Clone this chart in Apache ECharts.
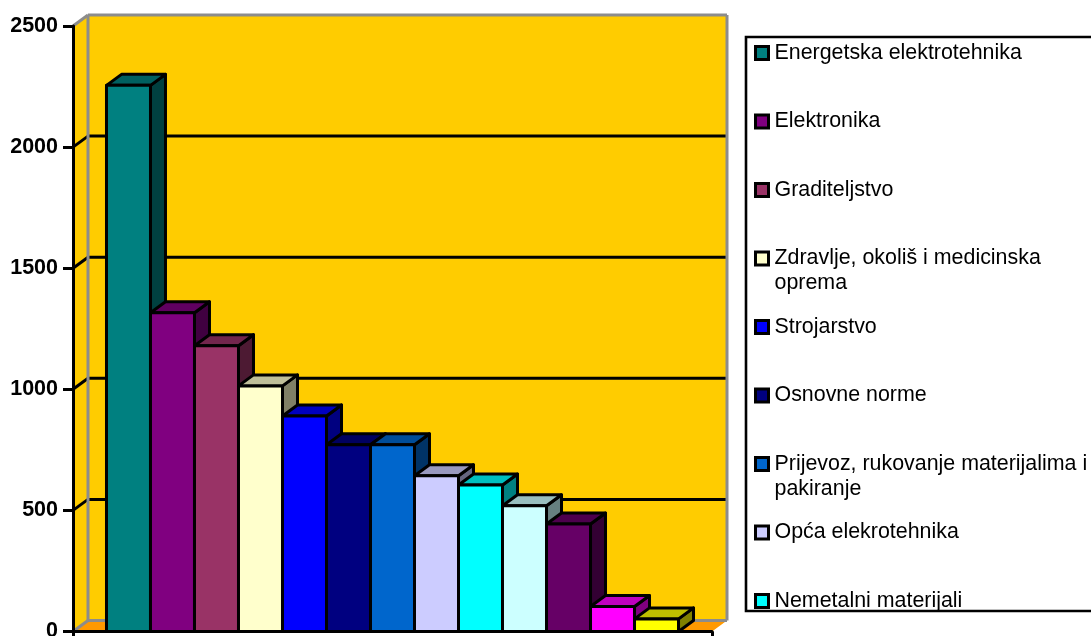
<!DOCTYPE html>
<html><head><meta charset="utf-8">
<style>html,body{margin:0;padding:0;background:#fff;overflow:hidden}#c{width:1091px;height:636px}</style>
<script src="https://cdn.jsdelivr.net/npm/echarts@6/dist/echarts.min.js"></script>
</head><body><div id="c"></div>
<script>
var categories = ["Energetska elektrotehnika","Elektronika","Graditeljstvo","Zdravlje, okoliš i medicinska oprema","Strojarstvo","Osnovne norme","Prijevoz, rukovanje materijalima i pakiranje","Opća elekrotehnika","Nemetalni materijali","Kategorija 10","Kategorija 11","Kategorija 12","Kategorija 13"];
var values = [2255,1316,1180,1014,890,771,771,643,605,519,444,103,52];
var colors = ["#008080","#800080","#993366","#FFFFCC","#0000FF","#000080","#0066CC","#CCCCFF","#00FFFF","#CCFFFF","#660066","#FF00FF","#FFFF00"];
var topColors = ["#006060","#600060","#73264D","#BFBF99","#0000BF","#000060","#004D99","#9999BF","#00BFBF","#99BFBF","#4D004D","#BF00BF","#BFBF00"];
var sideColors = ["#004040","#400040","#4D1A33","#808066","#000080","#000040","#003366","#666680","#008080","#668080","#330033","#800080","#808000"];
var legendNames = categories.slice(0,9);
var wrapped = {"Zdravlje, okoliš i medicinska oprema":"Zdravlje, okoliš i medicinska\noprema","Prijevoz, rukovanje materijalima i pakiranje":"Prijevoz, rukovanje materijalima i\npakiranje"};
var yTicks = [0,500,1000,1500,2000,2500];
var DX = 15, DY = -11;
var SLOT_PAD = 0.761;
var LW = 3;

function poly(points, fill, stroke, w){
  return {type:'polygon', shape:{points:points}, style:{fill:fill, stroke:stroke||'#000', lineWidth:w===undefined?LW:w, lineJoin:'round'}};
}
function line(a,b,stroke,w){
  return {type:'line', shape:{x1:a[0],y1:a[1],x2:b[0],y2:b[1]}, style:{stroke:stroke,lineWidth:w,fill:null}};
}
function renderWall(params, api){
  var l = api.coord([-SLOT_PAD,0]), r = api.coord([13+SLOT_PAD,0]), t = api.coord([-SLOT_PAD,2500]);
  var x0=l[0], x1=r[0], y0=l[1], y1=t[1];
  var wall='#FFCC00', floor='#FF9900', grey='#8C8C8C';
  var ch=[];
  ch.push(poly([[x0,y1],[x0+DX,y1+DY],[x0+DX,y0+DY],[x0,y0]],wall,'none',0));
  ch.push(poly([[x0+DX,y1+DY],[x1+DX,y1+DY],[x1+DX,y0+DY],[x0+DX,y0+DY]],wall,'none',0));
  ch.push(poly([[x0,y0],[x0+DX,y0+DY],[x1+DX,y0+DY],[x1,y0]],floor,'none',0));
  yTicks.slice(1,-1).forEach(function(v){
    var y=api.coord([0,v])[1];
    ch.push(line([x0,y],[x0+DX,y+DY],'#000',LW));
    ch.push(line([x0+DX,y+DY],[x1+DX,y+DY],'#000',LW));
  });
  ch.push(line([x0,y1],[x0+DX,y1+DY],grey,3));
  ch.push(line([x0+DX,y1+DY],[x1+DX,y1+DY],grey,3));
  ch.push(line([x0+DX,y1+DY],[x0+DX,y0+DY],grey,3));
  ch.push(line([x1+DX,y1+DY],[x1+DX,y0+DY],grey,3));
  ch.push(line([x0+DX,y0+DY],[x1+DX,y0+DY],grey,3));
  ch.push(line([x0,y0],[x0+DX,y0+DY],grey,3));
  return {type:'group',children:ch};
}
function renderBar(i){
  return function(params, api){
    var a=api.coord([api.value(0),api.value(1)]), b=api.coord([api.value(0)+1,0]);
    var xl=a[0],xr=b[0],yt=a[1],yb=b[1];
    return {type:'group',children:[
      poly([[xr,yt],[xr+DX,yt+DY],[xr+DX,yb+DY],[xr,yb]],sideColors[i]),
      poly([[xl,yt],[xl+DX,yt+DY],[xr+DX,yt+DY],[xr,yt]],topColors[i]),
      poly([[xl,yt],[xr,yt],[xr,yb],[xl,yb]],colors[i])
    ]};
  };
}
var series=[{type:'custom',name:'__wall',silent:true,data:[[0,0]],renderItem:renderWall,z:1,clip:false}];
categories.forEach(function(name,i){
  series.push({type:'custom',name:name,data:[[i,values[i]]],renderItem:renderBar(i),clip:false,z:2,
    itemStyle:{color:colors[i]},encode:{x:0,y:1}});
});
var chart=echarts.init(document.getElementById('c'),null,{renderer:'canvas'});
chart.setOption({
  animation:false,
  backgroundColor:'#fff',
  textStyle:{fontFamily:'"Liberation Sans",Arial,sans-serif'},
  grid:{left:73,top:26,width:639,height:605.5,containLabel:false,outerBoundsMode:'none'},
  xAxis:{type:'value',min:-SLOT_PAD,max:13+SLOT_PAD,z:5,
    axisLine:{show:true,onZero:false,lineStyle:{color:'#000',width:LW}},
    axisTick:{show:true,length:6,lineStyle:{color:'#000',width:LW},customValues:[-SLOT_PAD,13+SLOT_PAD]},
    axisLabel:{show:false},splitLine:{show:false}},
  yAxis:{type:'value',min:0,max:2500,interval:500,z:5,
    axisLine:{show:true,onZero:false,lineStyle:{color:'#000',width:LW}},
    axisTick:{show:true,length:10,lineStyle:{color:'#000',width:LW}},
    axisLabel:{show:true,color:'#000',fontWeight:'bold',fontSize:21.5,margin:15,padding:[4,0,0,0],fontFamily:'"Liberation Sans",Arial,sans-serif',formatter:function(v){return String(v);},showMinLabel:true,showMaxLabel:true,hideOverlap:false},
    splitLine:{show:false}},
  legend:{show:true,orient:'vertical',left:754,top:14.5,height:900,itemWidth:13,itemHeight:13,itemGap:-8.5,padding:0,icon:'rect',selectedMode:false,
    data:legendNames,
    itemStyle:{borderColor:'#000',borderWidth:3},
    formatter:function(n){return '\n'+(wrapped[n]||n)+(wrapped[n]?'':'\n ');},
    textStyle:{color:'#000',fontSize:21.4,lineHeight:25,padding:[2,0,0,1],fontFamily:'"Liberation Sans",Arial,sans-serif'}},
  graphic:[{type:'rect',z:-1,shape:{x:746,y:37,width:360,height:574},style:{fill:'#fff',stroke:'#000',lineWidth:2.6}}],
  series:series
});
</script></body></html>
